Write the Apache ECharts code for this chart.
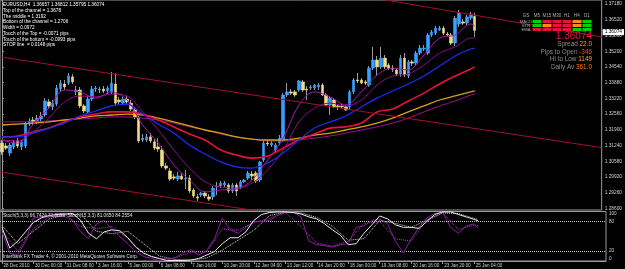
<!DOCTYPE html>
<html>
<head>
<meta charset="utf-8">
<script src="https://cdn.jsdelivr.net/npm/echarts@6/dist/echarts.min.js"></script>
<style>
  html, body { margin: 0; padding: 0; background: #000; }
  #chart { width: 625px; height: 269px; }
</style>
</head>
<body>
<div id="chart"></div>
<script>
// EURUSD H4 bars, one label every 8 bars
const timeLabels = ['28 Dec 2010', '30 Dec 00:00', '31 Dec 08:00', '3 Jan 16:00', '5 Jan 00:00', '6 Jan 08:00',
  '7 Jan 16:00', '10 Jan 20:00', '12 Jan 04:00', '13 Jan 12:00', '14 Jan 20:00', '18 Jan 00:00',
  '19 Jan 08:00', '20 Jan 16:00', '23 Jan 20:00', '25 Jan 04:00'];

const opens = [1.3134,1.3122,1.3092,1.3118,1.3143,1.3118,1.3122,1.3214,1.3231,1.3223,
  1.3235,1.3252,1.3307,1.3286,1.3298,1.3361,1.3382,1.3386,1.3412,1.3349,
  1.3357,1.3290,1.3265,1.3319,1.3361,1.3357,1.3361,1.3353,1.3349,1.3382,
  1.3315,1.3302,1.3319,1.3302,1.3273,1.3239,1.3147,1.3147,1.3160,1.3139,
  1.3118,1.3105,1.3038,1.3017,1.2992,1.2983,1.2996,1.2983,1.2987,1.2937,
  1.2908,1.2916,1.2924,1.2908,1.2908,1.2950,1.2954,1.2958,1.2958,1.2933,
  1.2958,1.2950,1.2971,1.2987,1.3004,1.3008,1.2979,1.3063,1.3134,1.3126,
  1.3105,1.3134,1.3147,1.3336,1.3349,1.3349,1.3357,1.3391,1.3361,1.3365,
  1.3365,1.3370,1.3378,1.3336,1.3294,1.3315,1.3290,1.3290,1.3286,1.3286,
  1.3349,1.3399,1.3399,1.3391,1.3378,1.3449,1.3483,1.3454,1.3491,1.3462,
  1.3449,1.3441,1.3424,1.3491,1.3416,1.3475,1.3470,1.3512,1.3529,1.3512,
  1.3588,1.3596,1.3609,1.3617,1.3592,1.3588,1.3554,1.3634,1.3643,1.3638,
  1.3659,1.36657];
const highs = [1.3147,1.3134,1.3134,1.3147,1.3155,1.3147,1.3223,1.3239,1.3244,1.3252,
  1.3265,1.3323,1.3319,1.3315,1.3378,1.3399,1.3399,1.3428,1.3424,1.3374,
  1.3370,1.3298,1.3332,1.3374,1.3374,1.3370,1.3374,1.3374,1.3433,1.3428,
  1.3328,1.3328,1.3332,1.3315,1.3281,1.3248,1.3172,1.3172,1.3176,1.3151,
  1.3155,1.3122,1.3050,1.3029,1.3004,1.3013,1.3008,1.3021,1.3000,1.2945,
  1.2920,1.2929,1.2933,1.2920,1.2954,1.2971,1.2975,1.2975,1.2966,1.2966,
  1.2966,1.2979,1.2983,1.3017,1.3017,1.3017,1.3059,1.3143,1.3147,1.3143,
  1.3134,1.3168,1.3344,1.3386,1.3361,1.3357,1.3399,1.3399,1.3374,1.3378,
  1.3382,1.3386,1.3386,1.3344,1.3328,1.3323,1.3298,1.3298,1.3294,1.3357,
  1.3407,1.3428,1.3407,1.3399,1.3458,1.3538,1.3500,1.3538,1.3504,1.3470,
  1.3462,1.3449,1.3504,1.3512,1.3483,1.3483,1.3521,1.3546,1.3546,1.3596,
  1.3609,1.3626,1.3626,1.3626,1.3601,1.3596,1.3668,1.3693,1.3655,1.3672,
  1.3685,1.36812];
const lows = [1.3084,1.3105,1.3080,1.3109,1.3113,1.3105,1.3113,1.3206,1.3210,1.3214,
  1.3223,1.3244,1.3281,1.3273,1.3290,1.3349,1.3357,1.3378,1.3382,1.3336,
  1.3281,1.3260,1.3256,1.3311,1.3349,1.3344,1.3344,1.3340,1.3340,1.3294,
  1.3298,1.3294,1.3298,1.3269,1.3235,1.3134,1.3139,1.3139,1.3134,1.3105,
  1.3097,1.3029,1.3021,1.2975,1.2979,1.2975,1.2979,1.2941,1.2924,1.2903,
  1.2891,1.2908,1.2903,1.2891,1.2895,1.2916,1.2945,1.2950,1.2924,1.2924,
  1.2912,1.2941,1.2966,1.2979,1.2979,1.2966,1.2971,1.3055,1.3122,1.3118,
  1.3097,1.3126,1.3139,1.3328,1.3336,1.3328,1.3349,1.3349,1.3315,1.3357,
  1.3357,1.3357,1.3332,1.3290,1.3252,1.3281,1.3273,1.3277,1.3269,1.3277,
  1.3340,1.3386,1.3382,1.3378,1.3370,1.3441,1.3416,1.3445,1.3445,1.3441,
  1.3433,1.3416,1.3412,1.3412,1.3407,1.3458,1.3462,1.3504,1.3521,1.3504,
  1.3580,1.3588,1.3605,1.3588,1.3584,1.3546,1.3542,1.3622,1.3630,1.3630,
  1.3651,1.35795];
const closes = [1.3097,1.3113,1.3126,1.3139,1.3122,1.3139,1.3214,1.3227,1.3223,1.3239,
  1.3248,1.3311,1.3290,1.3302,1.3365,1.3386,1.3370,1.3416,1.3391,1.3357,
  1.3290,1.3269,1.3319,1.3361,1.3365,1.3361,1.3353,1.3365,1.3386,1.3302,
  1.3307,1.3319,1.3307,1.3277,1.3244,1.3143,1.3155,1.3160,1.3143,1.3113,
  1.3109,1.3038,1.3029,1.2983,1.2987,1.2996,1.2983,1.2987,1.2933,1.2912,
  1.2903,1.2924,1.2912,1.2899,1.2945,1.2954,1.2966,1.2966,1.2933,1.2958,
  1.2933,1.2971,1.2979,1.3008,1.2996,1.2975,1.3055,1.3134,1.3130,1.3134,
  1.3126,1.3155,1.3336,1.3349,1.3344,1.3336,1.3395,1.3357,1.3357,1.3370,
  1.3378,1.3378,1.3336,1.3294,1.3323,1.3286,1.3286,1.3286,1.3273,1.3349,
  1.3399,1.3395,1.3386,1.3386,1.3449,1.3483,1.3454,1.3491,1.3454,1.3449,
  1.3445,1.3424,1.3491,1.3420,1.3475,1.3470,1.3512,1.3533,1.3533,1.3588,
  1.3601,1.3617,1.3617,1.3596,1.3588,1.3554,1.3659,1.3680,1.3638,1.3664,
  1.3676,1.36074];
const lastPrice = 1.36074;

// moving averages, read every 4th bar
const maIdx = [0,4,8,12,16,20,24,28,32,36,40,44,48,52,56,60,64,68,72,76,80,84,88,92,96,100,104,108,112,116,120,121];
const emaFast = [1.3147,1.3134,1.3214,1.3281,1.3357,1.3349,1.3323,1.3349,1.3315,1.3210,1.3134,1.3042,1.2979,1.2929,1.2937,1.2941,
  1.2979,1.3063,1.3155,1.3294,1.3349,1.3328,1.3294,1.3349,1.3420,1.3449,1.3441,1.3504,1.3575,1.3588,1.3634,1.3626];
const emaMid = [1.3147,1.3143,1.3181,1.3239,1.3307,1.3332,1.3328,1.3340,1.3332,1.3265,1.3189,1.3105,1.3029,1.2971,1.2950,1.2945,
  1.2966,1.3021,1.3105,1.3223,1.3281,1.3302,1.3290,1.3315,1.3378,1.3416,1.3424,1.3462,1.3512,1.3538,1.3575,1.3575];
const emaBlue = [1.3160,1.3160,1.3176,1.3197,1.3218,1.3248,1.3269,1.3290,1.3298,1.3256,1.3214,1.3176,1.3126,1.3088,1.3055,1.3034,
  1.3029,1.3050,1.3092,1.3147,1.3197,1.3223,1.3248,1.3286,1.3323,1.3353,1.3382,1.3416,1.3458,1.3500,1.3529,1.3533];
const emaRed = [1.3160,1.3164,1.3181,1.3197,1.3223,1.3244,1.3256,1.3265,1.3265,1.3256,1.3231,1.3202,1.3172,1.3147,1.3105,1.3084,
  1.3071,1.3080,1.3113,1.3147,1.3172,1.3197,1.3202,1.3218,1.3265,1.3277,1.3311,1.3344,1.3382,1.3416,1.3445,1.3454];
const emaGold = [1.3210,1.3214,1.3218,1.3223,1.3231,1.3239,1.3248,1.3252,1.3256,1.3252,1.3239,1.3223,1.3206,1.3189,1.3176,1.3160,
  1.3151,1.3147,1.3147,1.3155,1.3168,1.3176,1.3189,1.3202,1.3218,1.3239,1.3265,1.3290,1.3315,1.3332,1.3349,1.3353];
const emaSlow = [1.3223,1.3223,1.3223,1.3227,1.3231,1.3235,1.3239,1.3244,1.3244,1.3239,1.3231,1.3218,1.3202,1.3189,1.3172,1.3160,
  1.3151,1.3143,1.3143,1.3147,1.3155,1.3164,1.3176,1.3189,1.3202,1.3218,1.3239,1.3265,1.3290,1.3311,1.3336,1.3340];

// channel lines, ends at the chart edges (bar units)
const channelX = [-0.5, 153.5];
const channelTop = [1.4012, 1.3580];
const channelMid = [1.3496, 1.3115];
const channelBot = [1.3013, 1.2630];

const priceTicks = [1.3718,1.3652,1.3586,1.3520,1.3454,1.3388,1.3322,1.3256,1.3190,1.3124,1.3058,1.2992,1.2926,1.2860];

// stochastics
const stochIdx = [0,2,4,6,8,10,12,14,16,18,20,22,24,26,28,30,32,34,36,38,40,42,44,46,48,50,52,54,56,58,
  60,62,64,66,68,70,72,74,76,78,80,82,84,86,88,90,92,94,96,98,100,102,104,106,108,110,112,114,116,118,120,121];
const stoch15Main = [68,26,40,59,78,87,92,94,95,96,82,56,45,59,63,61,47,28,16,9,5,1,1,1,2,5,12,19,35,47,
  47,59,82,94,98,99,99,98,95,89,85,75,63,52,33,35,56,73,91,85,73,68,68,66,80,94,99,99,94,89,84,81.065];
const stoch5Main = [59,16,12,40,87,89,89,92,94,82,59,45,75,82,63,49,35,19,9,5,1,2,7,16,23,12,21,45,87,63,
  56,68,80,80,82,92,98,99,89,40,33,31,28,33,35,68,71,82,85,75,40,16,45,68,87,96,98,68,56,71,75,66.742];
const stoch15Signal = [72,35,60,85,93,95,60,55,60,35,10,3,2,6,22,42,62,92,98,97,88,70,42,45,82,76,68,82,97,96,86,84.255];
const stoch5Signal = [62,20,65,90,90,70,65,70,45,15,4,6,18,18,65,62,78,86,98,70,36,30,40,76,80,45,40,84,97,64,72,71.890];
const stochTicks = [0, 20, 80, 100];
const stochLevels = [20, 80];

const infoLines = ['EURUSD,H4  1.36657 1.36812 1.35795 1.36074', 'Top of the channel = 1.3678', 'The middle = 1.3192',
  'Bottom of the channel = 1.2706', 'Width = 0.0972', 'Touch of the Top = -0.0071 pips',
  'Touch of the bottom = -0.0993 pips', 'STOP line  = 0.0148 pips'];
const tfNames = ['GS', 'M5', 'M15', 'M30', 'H1', 'H4', 'D1'];
const signalRows = ['MACD', 'STR', 'EMA'];
const signalColors = [
  ['#00d000', '#e8103c', '#e8103c', '#e8103c', '#ff8c1a', '#00d000'],
  ['#00d000', '#ff8c1a', '#e8103c', '#e8103c', '#ff8c1a', '#00d000'],
  ['#e8103c', '#e8103c', '#e8103c', '#e8103c', '#00d000', '#00d000']];

const FONT = 'Liberation Sans';
const catCount = 154;
const cats = [];
for (let i = 0; i < catCount; i++) {
  cats.push(i % 8 === 0 && i / 8 < timeLabels.length ? timeLabels[i / 8] : '');
}
const pairs = (xs, ys) => ys.map((v, k) => [xs[k], v]);

const rangeData = opens.map((o, i) => [o, closes[i], lows[i], highs[i]]);
const bodyData = opens.map((o, i) => [o, closes[i], Math.min(o, closes[i]), Math.max(o, closes[i])]);

function maLine(name, data, color, width) {
  return {
    name: name, type: 'line', xAxisIndex: 2, yAxisIndex: 0, data: pairs(maIdx, data),
    smooth: 0.35, showSymbol: false, symbol: 'none', z: 5,
    lineStyle: { color: color, width: width }
  };
}
function chanLine(name, data) {
  return {
    name: name, type: 'line', xAxisIndex: 2, yAxisIndex: 0, data: pairs(channelX, data),
    symbol: 'none', z: 6, lineStyle: { color: '#a3102e', width: 1 }
  };
}
function stochLine(name, xs, data, color, dotted) {
  return {
    name: name, type: 'line', xAxisIndex: 3, yAxisIndex: 1, data: pairs(xs, data),
    symbol: 'none', z: 5,
    lineStyle: { color: color, width: 1, type: dotted ? 'dotted' : 'solid' }
  };
}

// dashboard and text blocks
const graphics = [];
graphics.push({
  type: 'text', left: 3, top: 2, z: 20,
  style: { text: infoLines.join('\n'), fill: '#ffffff', fontSize: 4.7, lineHeight: 5.75, fontFamily: FONT }
});
graphics.push({
  type: 'text', left: 3, top: 213.5, z: 20,
  style: { text: 'Stoch(5,3,3) 66.7424 71.8899  Stoch(15,3,3) 81.0650 84.2554', fill: '#e0e0e0', fontSize: 4.7, fontFamily: FONT }
});
graphics.push({
  type: 'text', left: 3, top: 254, z: 20,
  style: { text: 'Interbank FX Trader 4, \u00a9 2001-2010 MetaQuotes Software Corp.', fill: '#e0e0e0', fontSize: 4.7, fontFamily: FONT }
});
const colX = [526, 537, 547, 557, 567, 577, 587];
tfNames.forEach((t, k) => {
  graphics.push({ type: 'text', z: 20, style: { text: t, x: colX[k], y: 16, align: 'center', verticalAlign: 'middle',
    fill: '#b0b0b0', fontSize: 4.5, fontFamily: FONT } });
});
signalRows.forEach((r, j) => {
  const y = 20 + j * 4;
  graphics.push({ type: 'text', z: 20, style: { text: r, x: colX[0], y: y + 1.5, align: 'center', verticalAlign: 'middle',
    fill: '#b0b0b0', fontSize: 4.2, fontFamily: FONT } });
  signalColors[j].forEach((c, k) => {
    graphics.push({ type: 'rect', z: 20, shape: { x: colX[k + 1] - 4.5, y: y, width: 9, height: 3 }, style: { fill: c } });
  });
});
graphics.push({ type: 'text', z: 20, style: { text: lastPrice.toFixed(5), x: 592, y: 36, align: 'right', verticalAlign: 'middle',
  fill: '#f0143c', fontSize: 10, fontFamily: FONT } });
const stats = [['Spread', '22.0', '#ffa020'], ['Pips to Open', '-346', '#ff4a1a'], ['Hi to Low', '1149', '#ffa020'], ['Daily Av', '361.0', '#ff7a1a']];
stats.forEach((s, k) => {
  graphics.push({ type: 'text', z: 20, style: {
    text: '{g|' + s[0] + '} {v|' + s[1] + '}', x: 592, y: 44.5 + k * 7.6, align: 'right', verticalAlign: 'middle',
    fontSize: 6.4, fontFamily: FONT,
    rich: { g: { fill: '#8c8c8c', fontSize: 6.4, fontFamily: FONT }, v: { fill: s[2], fontSize: 6.4, fontFamily: FONT } } } });
});

const axisGray = '#9a9a9a';
const option = {
  backgroundColor: '#000000',
  animation: false,
  textStyle: { fontFamily: FONT },
  grid: [
    { left: 0, top: 0, width: 606, height: 210, show: true, borderColor: axisGray, borderWidth: 1 },
    { left: 0, top: 211.5, width: 606, height: 49.5, show: true, borderColor: axisGray, borderWidth: 1 }
  ],
  xAxis: [
    { type: 'category', gridIndex: 0, data: cats, boundaryGap: true,
      axisLine: { show: false }, axisTick: { show: false }, axisLabel: { show: false }, splitLine: { show: false } },
    { type: 'category', gridIndex: 1, data: cats, boundaryGap: true,
      axisLine: { show: true, lineStyle: { color: axisGray } },
      axisTick: { show: true, alignWithLabel: true, length: 3, interval: (i, v) => v !== '', lineStyle: { color: axisGray } },
      axisLabel: { show: true, interval: (i, v) => v !== '', align: 'left', margin: 2, padding: [0, 0, 0, 1.5],
        color: '#d0d0d0', fontSize: 4.6, fontFamily: FONT },
      splitLine: { show: false } },
    { type: 'value', gridIndex: 0, min: -0.5, max: 153.5, show: false },
    { type: 'value', gridIndex: 1, min: -0.5, max: 153.5, show: false }
  ],
  yAxis: [
    { type: 'value', gridIndex: 0, position: 'right', min: 1.2853, max: 1.3735, scale: true,
      axisLine: { show: true, lineStyle: { color: axisGray } },
      axisTick: { show: true, length: 2, customValues: priceTicks, lineStyle: { color: axisGray } },
      axisLabel: { show: true, customValues: priceTicks, formatter: v => v.toFixed(5), margin: 3,
        color: '#d0d0d0', fontSize: 4.8, fontFamily: FONT },
      splitLine: { show: false } },
    { type: 'value', gridIndex: 1, position: 'right', min: 0, max: 100,
      axisLine: { show: true, lineStyle: { color: axisGray } },
      axisTick: { show: true, length: 2, customValues: stochTicks, lineStyle: { color: axisGray } },
      axisLabel: { show: true, customValues: stochTicks, margin: 3, color: '#d0d0d0', fontSize: 4.6, fontFamily: FONT,
        verticalAlignMinLabel: 'bottom', verticalAlignMaxLabel: 'top' },
      splitLine: { show: false } }
  ],
  series: [
    chanLine('Channel top', channelTop),
    chanLine('Channel middle', channelMid),
    chanLine('Channel bottom', channelBot),
    { name: 'Range', type: 'candlestick', xAxisIndex: 0, yAxisIndex: 0, data: rangeData, barWidth: 1, z: 3,
      itemStyle: { color: '#9c9c9c', color0: '#9c9c9c', borderColor: '#9c9c9c', borderColor0: '#9c9c9c', borderWidth: 1 } },
    { name: 'Body', type: 'candlestick', xAxisIndex: 0, yAxisIndex: 0, data: bodyData, barWidth: 3, z: 4,
      itemStyle: { color: '#3aa0ff', color0: '#eedd82', borderColor: '#3aa0ff', borderColor0: '#eedd82', borderWidth: 0.6 },
      markLine: { silent: true, symbol: 'none', animation: false,
        lineStyle: { color: 'rgba(0,0,0,0)', width: 0 },
        label: { show: true, position: 'end', distance: 1, formatter: lastPrice.toFixed(5), color: '#000',
          backgroundColor: '#ffffff', padding: [1, 2, 0, 2], fontSize: 4.8, fontFamily: FONT },
        data: [{ yAxis: lastPrice }] } },
    maLine('EMA slow', emaSlow, '#a0108c', 1),
    maLine('EMA gold', emaGold, '#d4a410', 1.3),
    maLine('EMA red', emaRed, '#e8103c', 1.6),
    maLine('EMA blue', emaBlue, '#1a2cff', 1.2),
    maLine('EMA mid', emaMid, '#8c0a8c', 1),
    maLine('EMA fast', emaFast, '#a818b0', 1),
    Object.assign(stochLine('Stoch15 signal', maIdx, stoch15Signal, '#d8d8d8', true), {}),
    Object.assign(stochLine('Stoch5 signal', maIdx, stoch5Signal, '#b040c8', true), {}),
    Object.assign(stochLine('Stoch5', stochIdx, stoch5Main, '#8a1aa0', false), {}),
    Object.assign(stochLine('Stoch15', stochIdx, stoch15Main, '#e8e8e8', false), {
      markLine: { silent: true, symbol: 'none', animation: false, label: { show: false },
        lineStyle: { color: '#c0c0c0', type: 'dotted', width: 1 },
        data: stochLevels.map(v => ({ yAxis: v })) } })
  ],
  graphic: graphics
};

const myChart = echarts.init(document.getElementById('chart'), null, { renderer: 'canvas' });
myChart.setOption(option);
</script>
</body>
</html>
